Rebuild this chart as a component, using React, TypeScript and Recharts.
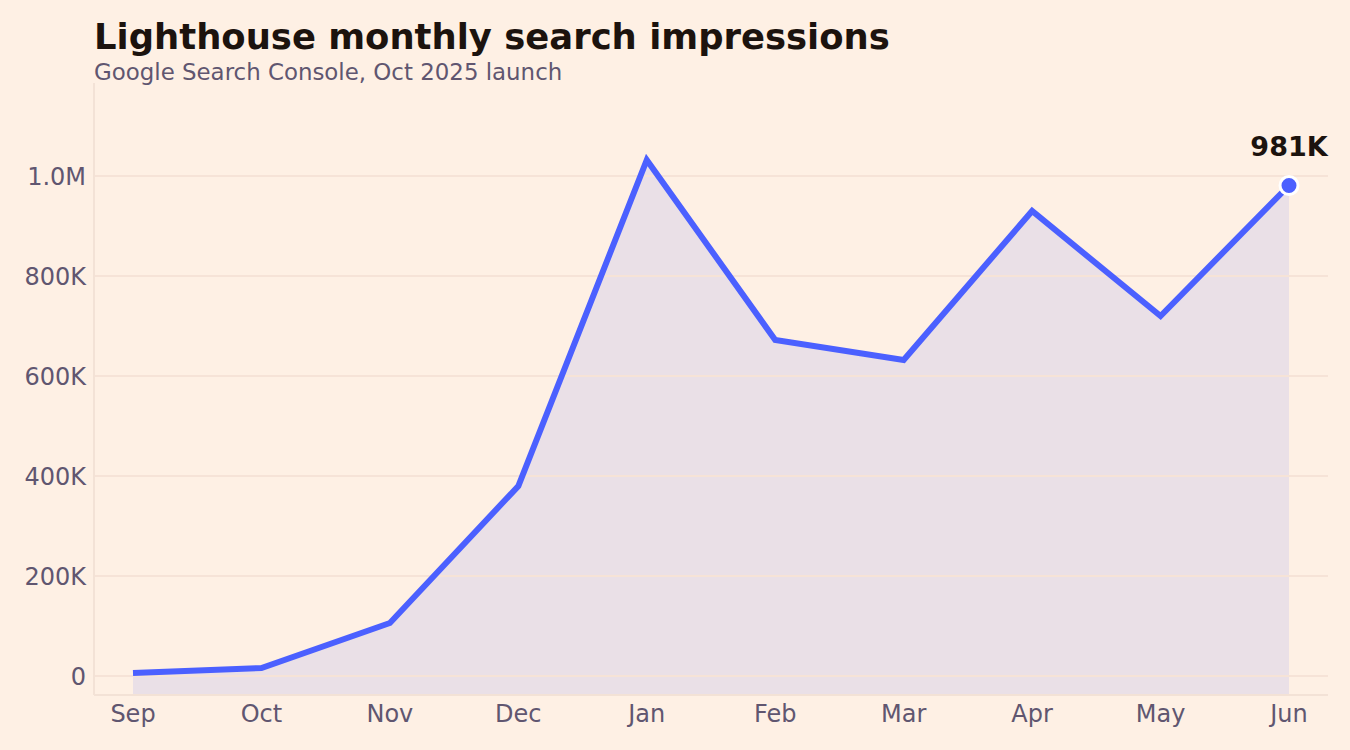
import { Area, ComposedChart, Line, ReferenceLine, XAxis, YAxis } from "recharts";

const months = ["Sep", "Oct", "Nov", "Dec", "Jan", "Feb", "Mar", "Apr", "May", "Jun"];
const impressions = [6000, 16000, 106000, 380000, 1032000, 672000, 632000, 930000, 720000, 981000];
const yTicks = [0, 200000, 400000, 600000, 800000, 1000000];

const data = months.map((m, i) => ({ month: m, value: impressions[i] }));

const LINE = "#4b60ff";
const MUTED = "#605670";
const FONT = "'DejaVu Sans', sans-serif";

function fmt(v: number) {
    if (v >= 1000000) return (v / 1000000).toFixed(1) + "M";
    if (v === 0) return "0";
    return Math.round(v / 1000) + "K";
}

function LastDot(props: any) {
    const { cx, cy, index, value } = props;
    if (index !== data.length - 1) return null;
    return (
        <g key="last">
            <circle cx={cx} cy={cy} r={9} fill={LINE} stroke="#ffffff" strokeWidth={3} />
            <text x={cx} y={cy - 30} textAnchor="middle" fontSize={27} fontWeight="bold" fill="#1c130e" fontFamily={FONT}>
                {fmt(Array.isArray(value) ? value[1] : value)}
            </text>
        </g>
    );
}

export default function App() {
    return (
        <div style={{ position: "absolute", top: 0, left: 0, width: 1350, height: 750, background: "#fef0e4", fontFamily: FONT }}>
            <div style={{ position: "absolute", left: 94, top: 16, fontSize: 35.4, fontWeight: "bold", color: "#1c130e", whiteSpace: "nowrap" }}>
                Lighthouse monthly search impressions
            </div>
            <div style={{ position: "absolute", left: 94, top: 59, fontSize: 22.9, color: MUTED, whiteSpace: "nowrap" }}>
                Google Search Console, Oct 2025 launch
            </div>
            <ComposedChart width={1350} height={750} data={data} margin={{ top: 83, right: 22, bottom: 25, left: 0 }}>
                {yTicks.map((t) => (
                    <ReferenceLine key={t} y={t} stroke="#f6e3d7" strokeWidth={2} />
                ))}
                <XAxis
                    dataKey="month"
                    padding={{ left: 39, right: 39 }}
                    axisLine={{ stroke: "#f3e2d6", strokeWidth: 2 }}
                    tickLine={false}
                    tickMargin={4}
                    tick={{ fill: MUTED, fontSize: 24, fontFamily: FONT }}
                />
                <YAxis
                    width={94}
                    domain={[-38000, 1186000]}
                    allowDataOverflow
                    ticks={yTicks}
                    tickFormatter={fmt}
                    axisLine={{ stroke: "#f3e2d6", strokeWidth: 2 }}
                    tickLine={false}
                    tick={{ fill: MUTED, fontSize: 24, fontFamily: FONT }}
                />
                <Area
                    dataKey="value"
                    baseValue="dataMin"
                    fill={LINE}
                    fillOpacity={0.11}
                    stroke="none"
                    isAnimationActive={false}
                />
                <Line
                    dataKey="value"
                    stroke={LINE}
                    strokeWidth={6}
                    type="linear"
                    dot={<LastDot />}
                    activeDot={false}
                    isAnimationActive={false}
                />
            </ComposedChart>
        </div>
    );
}
